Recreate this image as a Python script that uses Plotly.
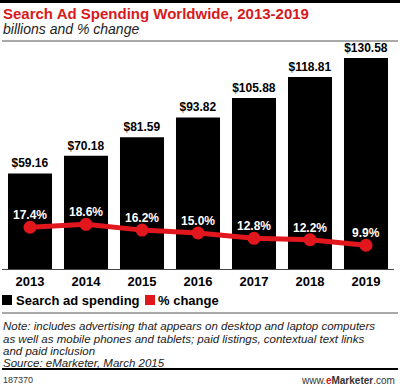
import plotly.graph_objects as go

years = ["2013", "2014", "2015", "2016", "2017", "2018", "2019"]
spending = [59.16, 70.18, 81.59, 93.82, 105.88, 118.81, 130.58]
pct_change = [17.4, 18.6, 16.2, 15.0, 12.8, 12.2, 9.9]
pct_labels = ["17.4%", "18.6%", "16.2%", "15.0%", "12.8%", "12.2%", "9.9%"]
bar_labels = ["$59.16", "$70.18", "$81.59", "$93.82", "$105.88", "$118.81", "$130.58"]

W, H = 400, 390
RED = "#e2161d"
TITLE_RED = "#d71920"
FONT = "Liberation Sans"

def py(pix):
    return (H - pix) / H

def px(pix):
    return pix / W

fig = go.Figure()
fig.add_trace(go.Bar(
    x=years, y=spending, marker_color="#000000", marker_line_width=0,
    text=bar_labels, textposition="outside",
    textfont=dict(family=FONT, size=12, color="#000000", weight="bold"),
    cliponaxis=False, showlegend=False, hoverinfo="skip",
))
fig.add_trace(go.Scatter(
    x=years, y=pct_change, yaxis="y2", mode="lines+markers",
    line=dict(color=RED, width=5), marker=dict(color=RED, size=13),
    cliponaxis=False, showlegend=False, hoverinfo="skip",
))

fig.update_layout(
    width=W, height=H, margin=dict(l=0, r=0, t=0, b=0),
    paper_bgcolor="#ffffff", plot_bgcolor="#ffffff",
    bargap=0.214,
    xaxis=dict(type="category", domain=[px(2), px(394)], range=[-0.5, 6.5],
               showgrid=False, zeroline=False,
               showline=True, linecolor="#444444", linewidth=1,
               ticks="", tickfont=dict(family=FONT, size=13, color="#000", weight="bold"),
               fixedrange=True),
    yaxis=dict(domain=[py(269), py(45)], range=[0, 224 / 1.615], visible=False, fixedrange=True),
    yaxis2=dict(overlaying="y", range=[0, 224 / 2.4], visible=False, fixedrange=True),
    showlegend=False,
)

shapes = [
    dict(type="rect", xref="paper", yref="paper", x0=0, x1=1, y0=py(3), y1=py(0),
         fillcolor="#000", line_width=0),
    dict(type="line", xref="paper", yref="paper", x0=px(2), x1=px(398), y0=py(41), y1=py(41),
         line=dict(color="#555", width=1)),
    dict(type="rect", xref="paper", yref="paper", x0=px(2), x1=px(12), y0=py(305), y1=py(295),
         fillcolor="#000", line_width=0),
    dict(type="rect", xref="paper", yref="paper", x0=px(145), x1=px(155), y0=py(305), y1=py(295),
         fillcolor=RED, line_width=0),
    dict(type="line", xref="paper", yref="paper", x0=px(2), x1=px(398), y0=py(313), y1=py(313),
         line=dict(color="#555", width=1)),
    dict(type="rect", xref="paper", yref="paper", x0=px(2), x1=px(398), y0=py(370), y1=py(368),
         fillcolor="#000", line_width=0),
]
fig.update_layout(shapes=shapes)

def ann(text, x, y, size, color="#000", xanchor="left", weight="normal", style="normal"):
    return dict(text=text, xref="paper", yref="paper", x=px(x), y=py(y), xanchor=xanchor,
                yanchor="middle", showarrow=False,
                font=dict(family=FONT, size=size, color=color, weight=weight, style=style))

annotations = [
    ann("Search Ad Spending Worldwide, 2013-2019", 1, 14, 15, TITLE_RED, weight="bold"),
    ann("billions and % change", 1, 29, 14, "#222", style="italic"),
    ann("Search ad spending", 14, 300, 13, "#000", weight="bold"),
    ann("% change", 156, 300, 13, "#000", weight="bold"),
    ann("Note: includes advertising that appears on desktop and laptop computers", 1, 325.5, 11.5, "#222", style="italic"),
    ann("as well as mobile phones and tablets; paid listings, contextual text links", 1, 338.5, 11.5, "#222", style="italic"),
    ann("and paid inclusion", 1, 351, 11.5, "#222", style="italic"),
    ann("Source: eMarketer, March 2015", 1, 363, 11.5, "#222", style="italic"),
    ann("187370", 1, 380, 9, "#333"),
    ann("www.<span style='color:#d71920'><b>e</b></span><b>Marketer</b>.com", 397, 380, 10, "#333", xanchor="right"),
]
for i, (v, lab) in enumerate(zip(pct_change, pct_labels)):
    annotations.append(dict(text=lab, x=i, y=v, xref="x", yref="y2", yshift=12,
                            showarrow=False, yanchor="middle",
                            font=dict(family=FONT, size=12, color="#ffffff", weight="bold")))
fig.update_layout(annotations=annotations)

fig.write_html("out.html", config={"displayModeBar": False},
               post_script="document.body.style.margin='0';document.body.style.padding='0';document.body.style.overflow='hidden';")
